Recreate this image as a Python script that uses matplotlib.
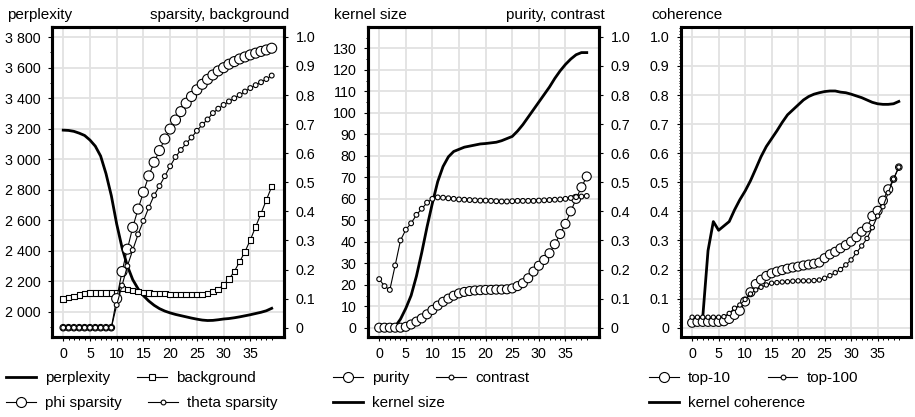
import numpy as np
import matplotlib
matplotlib.use('Agg')
import matplotlib.pyplot as plt
from matplotlib.ticker import FixedLocator, FuncFormatter
from matplotlib.lines import Line2D

plt.rcParams['font.family'] = ['Liberation Sans', 'DejaVu Sans']

iters = list(range(40))

# panel 1
perplexity = [3190, 3188, 3182, 3170, 3155, 3125, 3085, 3020, 2905, 2760,
              2575, 2420, 2300, 2210, 2150, 2105, 2070, 2042, 2020, 2004,
              1992, 1982, 1974, 1966, 1958, 1951, 1945, 1942, 1943, 1947,
              1952, 1955, 1960, 1966, 1973, 1980, 1988, 1996, 2006, 2022]
background = [0.099, 0.103, 0.108, 0.113, 0.117, 0.120, 0.120, 0.120, 0.120, 0.120,
              0.120, 0.134, 0.132, 0.128, 0.124, 0.121, 0.119, 0.118, 0.118, 0.117,
              0.115, 0.115, 0.115, 0.115, 0.115, 0.115, 0.115, 0.118, 0.124, 0.132,
              0.147, 0.167, 0.193, 0.227, 0.261, 0.302, 0.347, 0.393, 0.439, 0.485]
phi_sparsity = [0, 0, 0, 0, 0, 0, 0, 0, 0, 0,
                0.100, 0.193, 0.270, 0.345, 0.408, 0.466, 0.522, 0.569, 0.609, 0.649,
                0.683, 0.714, 0.743, 0.772, 0.795, 0.818, 0.837, 0.854, 0.869, 0.883,
                0.894, 0.906, 0.915, 0.924, 0.931, 0.938, 0.944, 0.950, 0.955, 0.961]
theta_sparsity = [0, 0, 0, 0, 0, 0, 0, 0, 0, 0,
                  0.078, 0.145, 0.212, 0.267, 0.321, 0.367, 0.413, 0.455, 0.487, 0.521,
                  0.555, 0.587, 0.611, 0.634, 0.654, 0.677, 0.698, 0.716, 0.738, 0.753,
                  0.766, 0.778, 0.789, 0.800, 0.812, 0.824, 0.834, 0.844, 0.855, 0.867]

# panel 2
kernel_size = [0, 0, 0, 0.5, 4, 9, 15, 24, 35, 47,
               58, 68, 75, 79.5, 82, 83, 84, 84.5, 85, 85.5,
               85.7, 86, 86.3, 87, 88, 89, 91.5, 94.5, 98, 101.5,
               105, 108.5, 112, 116, 119.5, 122.5, 125, 127, 128, 128]
purity = [0, 0, 0, 0, 0, 0.003, 0.011, 0.021, 0.032, 0.046,
          0.061, 0.076, 0.089, 0.100, 0.110, 0.118, 0.123, 0.126, 0.128, 0.129,
          0.130, 0.130, 0.131, 0.131, 0.132, 0.135, 0.143, 0.153, 0.170, 0.193,
          0.213, 0.233, 0.256, 0.287, 0.322, 0.357, 0.400, 0.443, 0.483, 0.520]
contrast = [0.167, 0.143, 0.130, 0.214, 0.300, 0.337, 0.359, 0.388, 0.409, 0.430,
            0.443, 0.448, 0.447, 0.445, 0.443, 0.441, 0.440, 0.439, 0.438, 0.437,
            0.437, 0.436, 0.435, 0.434, 0.434, 0.435, 0.436, 0.436, 0.436, 0.436,
            0.437, 0.438, 0.439, 0.440, 0.441, 0.443, 0.446, 0.449, 0.451, 0.453]

# panel 3
top10 = [0.017, 0.020, 0.020, 0.020, 0.020, 0.020, 0.022, 0.030, 0.044, 0.058,
         0.090, 0.122, 0.150, 0.165, 0.178, 0.187, 0.193, 0.198, 0.203, 0.207,
         0.210, 0.214, 0.217, 0.220, 0.224, 0.239, 0.252, 0.261, 0.273, 0.284,
         0.296, 0.311, 0.330, 0.345, 0.384, 0.402, 0.437, 0.476, 0.511, 0.552]
top100 = [0.036, 0.036, 0.036, 0.036, 0.036, 0.036, 0.038, 0.049, 0.067, 0.078,
          0.097, 0.116, 0.130, 0.139, 0.147, 0.153, 0.155, 0.157, 0.158, 0.160,
          0.161, 0.161, 0.161, 0.162, 0.164, 0.170, 0.179, 0.189, 0.200, 0.216,
          0.233, 0.258, 0.281, 0.307, 0.344, 0.384, 0.416, 0.464, 0.511, 0.552]
kernel_coherence = [0.030, 0.030, 0.035, 0.265, 0.365, 0.335, 0.350, 0.365, 0.405, 0.440,
                    0.470, 0.505, 0.546, 0.588, 0.623, 0.650, 0.677, 0.706, 0.732, 0.749,
                    0.766, 0.783, 0.795, 0.803, 0.808, 0.812, 0.814, 0.814, 0.810, 0.808,
                    0.803, 0.797, 0.791, 0.783, 0.775, 0.770, 0.768, 0.768, 0.770, 0.778]

W, H = 915, 417
PX = 72 / 100  # points per pixel
TICK_FS = 10.3
TEXT_FS = 11.0
GRID = '#e2e2e2'

fig = plt.figure(figsize=(W / 100, H / 100), dpi=100)


def px_axes(left, right, top=27, bottom=337):
    return fig.add_axes([left / W, 1 - bottom / H, (right - left) / W, (bottom - top) / H])


def style(ax):
    for s in ax.spines.values():
        s.set_linewidth(2.2)
    ax.tick_params(which='major', direction='out', length=3.2, width=0.8,
                   labelsize=TICK_FS, pad=5.0)
    ax.tick_params(which='minor', direction='out', length=1.8, width=0.7)
    ax.tick_params(axis='x', which='major', pad=4.0)


def x_setup(ax):
    ax.set_xlim(-2.1, 41.3)
    ax.xaxis.set_major_locator(FixedLocator(range(0, 40, 5)))
    ax.xaxis.set_minor_locator(FixedLocator(iters))


def frac_fmt(v, pos):
    return '0' if abs(v) < 1e-9 else '%.1f' % v


def right_unit_axis(ax2):
    ax2.set_ylim(-0.032, 1.034)
    ax2.yaxis.set_major_locator(FixedLocator(np.arange(0, 1.05, 0.1)))
    ax2.yaxis.set_major_formatter(FuncFormatter(frac_fmt))
    style(ax2)


def markers(ax, y, marker, d_px, z=3):
    ax.plot(iters, y, color='black', lw=0.8, zorder=z)
    d = np.broadcast_to(np.asarray(d_px, dtype=float), (len(y),))
    ax.scatter(iters, y, s=(d * PX) ** 2, marker=marker, facecolor='white',
               edgecolor='black', linewidths=0.8, zorder=z + 0.1)


def handle(marker=None, d_px=0, lw=0.8):
    if marker is None:
        return Line2D([], [], color='black', lw=lw)
    return Line2D([], [], color='black', lw=lw, marker=marker, ms=d_px * PX,
                  mfc='white', mec='black', mew=0.8)


def legend_row(handles, labels, x, y, spacing=1.75):
    fig.legend(handles, labels, loc='center left', bbox_to_anchor=(x / W, 1 - y / H),
               ncol=len(handles), frameon=False, borderpad=0, borderaxespad=0,
               handlelength=1.95, handletextpad=0.6, columnspacing=spacing,
               fontsize=TEXT_FS)


# ---------------- panel 1 ----------------
ax = px_axes(52, 284)
style(ax)
x_setup(ax)
ax.set_ylim(1834, 3866)
ax.yaxis.set_major_locator(FixedLocator(range(2000, 3801, 200)))
ax.yaxis.set_minor_locator(FixedLocator(range(1900, 3801, 100)))
ax.yaxis.set_major_formatter(FuncFormatter(lambda v, p: f'{int(v):,}'.replace(',', ' ')))
ax.grid(True, which='major', color=GRID, lw=1.3)
ax.set_axisbelow(True)
ax.plot(iters, perplexity, color='black', lw=2.0, zorder=2)

ax2 = ax.twinx()
right_unit_axis(ax2)
markers(ax2, background, 's', 5.5, z=3)
phi_d = [6.5 if v == 0 else 10 for v in phi_sparsity]
markers(ax2, phi_sparsity, 'o', phi_d, z=4)
markers(ax2, theta_sparsity, 'o', 4.8, z=5)

fig.text(7 / W, 1 - 19 / H, 'perplexity', ha='left', va='baseline', fontsize=TEXT_FS)
fig.text(289 / W, 1 - 19 / H, 'sparsity, background', ha='right', va='baseline', fontsize=TEXT_FS)
legend_row([handle(lw=2.0), handle('s', 5.5)], ['perplexity', 'background'], 6, 378)
legend_row([handle('o', 10), handle('o', 4.8)], ['phi sparsity', 'theta sparsity'], 6, 403)

# ---------------- panel 2 ----------------
ax = px_axes(368, 599)
style(ax)
x_setup(ax)
ax.set_ylim(-4.3, 139.9)
ax.yaxis.set_major_locator(FixedLocator(range(0, 131, 10)))
ax.yaxis.set_minor_locator(FixedLocator(range(0, 140, 5)))
ax.grid(True, which='major', color=GRID, lw=1.3)
ax.set_axisbelow(True)
ax.plot(iters, kernel_size, color='black', lw=2.0, zorder=2)

ax2 = ax.twinx()
right_unit_axis(ax2)
markers(ax2, purity, 'o', 9.0, z=3)
markers(ax2, contrast, 'o', 4.8, z=4)

fig.text(334 / W, 1 - 19 / H, 'kernel size', ha='left', va='baseline', fontsize=TEXT_FS)
fig.text(605 / W, 1 - 19 / H, 'purity, contrast', ha='right', va='baseline', fontsize=TEXT_FS)
legend_row([handle('o', 10), handle('o', 4.8)], ['purity', 'contrast'], 333, 378)
legend_row([handle(lw=2.0)], ['kernel size'], 333, 403)

# ---------------- panel 3 ----------------
ax = px_axes(681, 911)
style(ax)
x_setup(ax)
ax.set_ylim(-0.032, 1.034)
ax.yaxis.set_major_locator(FixedLocator(np.arange(0, 1.05, 0.1)))
ax.yaxis.set_minor_locator(FixedLocator(np.arange(0, 1.035, 0.01)))
ax.yaxis.set_major_formatter(FuncFormatter(frac_fmt))
ax.grid(True, which='major', color=GRID, lw=1.3)
ax.set_axisbelow(True)
ax.plot(iters, kernel_coherence, color='black', lw=2.0, zorder=2)
top10_d = [9.0] * 38 + [6.5, 6.5]
markers(ax, top10, 'o', top10_d, z=3)
markers(ax, top100, 'o', 4.3, z=4)

fig.text(651 / W, 1 - 19 / H, 'coherence', ha='left', va='baseline', fontsize=TEXT_FS)
legend_row([handle('o', 10), handle('o', 4.8)], ['top-10', 'top-100'], 649, 378, spacing=2.4)
legend_row([handle(lw=2.0)], ['kernel coherence'], 649, 403)

fig.savefig('out.png', dpi=100)
